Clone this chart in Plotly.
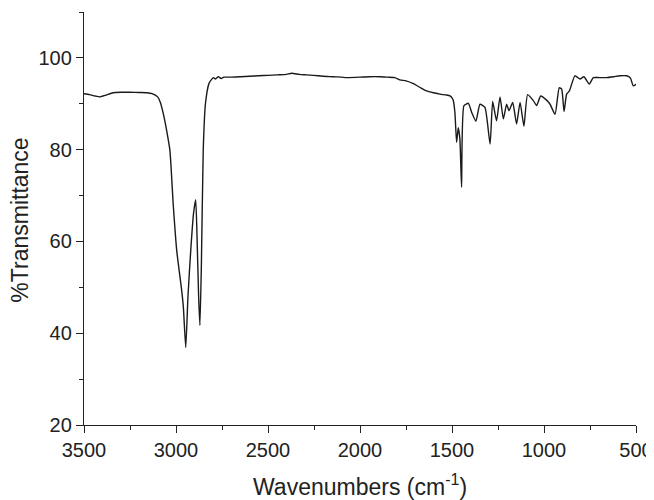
import plotly.graph_objects as go

wavenumber = [3500, 3470, 3440, 3413, 3380, 3342, 3300, 3250, 3200, 3158, 3130, 3100, 3085, 3070,
              3050, 3033, 3015, 2996, 2969, 2960, 2947, 2935, 2920, 2905, 2893, 2885, 2877, 2870,
              2862, 2852, 2840, 2820, 2797, 2785, 2770, 2755, 2740, 2700, 2650, 2600, 2550, 2500,
              2450, 2400, 2371, 2330, 2290, 2254, 2200, 2150, 2100, 2073, 2000, 1950, 1891, 1850,
              1810, 1783, 1750, 1710, 1675, 1638, 1600, 1565, 1530, 1511, 1500, 1493, 1484, 1475,
              1466, 1457, 1448, 1435, 1411, 1393, 1370, 1348, 1321, 1293, 1279, 1258, 1239, 1221,
              1203, 1190, 1170, 1149, 1130, 1109, 1089, 1058, 1040, 1018, 986, 967, 940, 917,
              904, 891, 877, 862, 832, 804, 783, 754, 732, 700, 659, 620, 587, 551, 530, 515, 497]
transmittance = [92.2, 92.0, 91.7, 91.5, 91.9, 92.4, 92.5, 92.5, 92.45, 92.4, 92.2, 91.5, 90.3, 88.0,
                 84.0, 79.8, 68.0, 58.0, 49.3, 45.7, 36.9, 48.0, 58.0, 66.0, 69.1, 60.0, 48.0, 41.7,
                 55.0, 79.8, 90.0, 94.5, 95.7, 95.4, 95.9, 95.5, 95.8, 95.8, 95.9, 96.0, 96.1, 96.2,
                 96.3, 96.4, 96.65, 96.4, 96.3, 96.2, 96.0, 95.9, 95.8, 95.7, 95.8, 95.9, 95.9, 95.8,
                 95.7, 95.2, 95.0, 94.4, 93.6, 92.8, 92.4, 92.1, 91.9, 91.7, 91.3, 90.7, 88.0, 81.6,
                 84.8, 82.3, 71.8, 89.6, 90.1, 88.1, 86.2, 89.9, 89.2, 81.2, 90.5, 86.3, 91.5, 86.7,
                 89.9, 88.5, 90.3, 85.6, 90.3, 85.1, 92.0, 90.7, 89.6, 91.7, 90.8, 89.9, 87.7, 93.5,
                 93.2, 88.3, 92.1, 92.8, 96.1, 95.4, 95.9, 94.3, 95.7, 95.7, 95.7, 95.9, 96.1, 96.1,
                 95.6, 93.9, 94.3]

x_ticks = [3500, 3000, 2500, 2000, 1500, 1000, 500]
y_ticks = [20, 40, 60, 80, 100]
x_title = "Wavenumbers (cm<sup>-1</sup>)"
y_title = "%Transmittance"

fig = go.Figure()
fig.add_trace(go.Scatter(
    x=wavenumber, y=transmittance, mode="lines",
    line=dict(color="#1a1a1a", width=1.4, shape="spline", smoothing=0.5),
    showlegend=False,
))

family = "Liberation Sans, Arial, sans-serif"
tick_font = dict(family=family, size=20, color="#222")
title_font = dict(family=family, size=23, color="#222")

fig.update_layout(
    width=646, height=492,
    margin=dict(l=76, r=18, t=4, b=75, autoexpand=False),
    plot_bgcolor="white", paper_bgcolor="white",
    font=tick_font,
    annotations=[
        dict(text=x_title, xref="paper", yref="paper", x=0.5, y=-0.145,
             xanchor="center", yanchor="middle", showarrow=False, font=title_font),
        dict(text=y_title, xref="paper", yref="paper", x=-0.115, y=0.496,
             xanchor="center", yanchor="middle", textangle=-90, showarrow=False, font=title_font),
    ],
)
fig.update_xaxes(
    range=[3500, 500], tickvals=x_ticks, ticktext=[str(v) for v in x_ticks],
    showgrid=False, zeroline=False, showline=True, linecolor="#222", linewidth=1.3,
    ticks="outside", ticklen=7, tickwidth=1.2, tickcolor="#222",
    minor=dict(ticks="outside", ticklen=4, dtick=250, tick0=500, tickcolor="#222", tickwidth=1.2),
    tickfont=tick_font, automargin=False, ticklabeloverflow="allow",
)
fig.update_yaxes(
    range=[20, 110], tickvals=y_ticks, ticktext=[str(v) for v in y_ticks],
    showgrid=False, zeroline=False, showline=True, linecolor="#222", linewidth=1.3,
    ticks="outside", ticklen=7, tickwidth=1.2, tickcolor="#222",
    minor=dict(ticks="outside", ticklen=4, dtick=10, tick0=30, tickcolor="#222", tickwidth=1.2),
    tickfont=tick_font, automargin=False, ticklabeloverflow="allow",
)

fig.write_html("out.html")
